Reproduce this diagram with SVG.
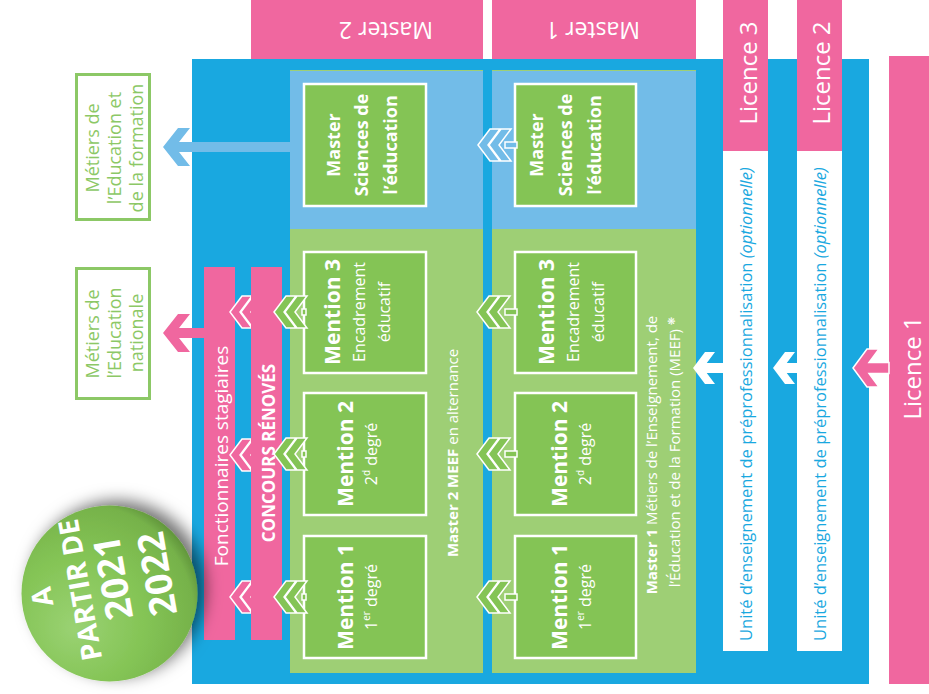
<svg xmlns="http://www.w3.org/2000/svg" width="929" height="694" viewBox="0 0 929 694">
<style>
text{font-family:"Open Sans","Noto Sans","DejaVu Sans",sans-serif;}
.w{fill:#ffffff;}
.b{font-weight:bold;}
.mid{text-anchor:middle;}
.pink{fill:#f0679f;}
.blue{fill:#19a8e0;}
.lblue{fill:#72bce8;}
.gcol{fill:#9ecf75;}
.gbox{fill:#84c455;stroke:#ffffff;stroke-width:2.5;}
.mt{fill:#ffffff;font-size:21px;font-weight:bold;text-anchor:middle;}
.st{fill:#ffffff;font-size:16px;text-anchor:middle;}
.sc{fill:#ffffff;font-size:18px;font-weight:bold;text-anchor:middle;}
.met{fill:#ffffff;stroke:#8cc866;stroke-width:3;}
.mett{fill:#8cc866;font-size:18px;text-anchor:middle;}
.lic{fill:#ffffff;font-size:24px;text-anchor:middle;}
.ue{fill:#19a8e0;font-size:16.5px;}
.chev{stroke:#ffffff;stroke-width:1.5;stroke-linejoin:miter;}
.bt{fill:#ffffff;font-weight:bold;text-anchor:middle;}
</style>
<defs>
<path id="dchev" d="M0,0 L12,-16 L22,-16 L10,0 L22,16 L12,16 Z M11,0 L23,-16 L33,-16 L21,0 L33,16 L23,16 Z"/>
<radialGradient id="badgeGrad" cx="0.35" cy="0.62" r="0.75" fx="0.3" fy="0.7">
<stop offset="0" stop-color="#9ad273"/>
<stop offset="0.5" stop-color="#84c455"/>
<stop offset="0.85" stop-color="#76b24a"/>
<stop offset="1" stop-color="#4f7d2f"/>
</radialGradient>
<filter id="shadow" x="-40%" y="-40%" width="180%" height="180%">
<feDropShadow dx="8" dy="-5" stdDeviation="8" flood-color="#000000" flood-opacity="0.55"/>
</filter>
</defs>

<g id="background">
<rect class="blue" x="192" y="59" width="677" height="625"/>
</g>

<g id="master2-header">
<rect class="pink" x="251" y="0" width="232" height="59"/>
<text class="w mid" font-size="23" transform="translate(386,22) rotate(180)">Master 2</text>
</g>
<g id="master1-header">
<rect class="pink" x="492" y="0" width="204" height="59"/>
<text class="w mid" font-size="23" transform="translate(593,22) rotate(180)">Master 1</text>
</g>

<g id="licence3">
<rect class="pink" x="723" y="0" width="45" height="151"/>
<rect fill="#ffffff" x="723" y="151" width="45" height="500"/>
<text class="lic" transform="translate(757,73) rotate(-90)">Licence 3</text>
<text class="ue" transform="translate(752,641) rotate(-90)">Unité d’enseignement de préprofessionnalisation <tspan font-style="italic">(optionnelle)</tspan></text>
</g>
<g id="licence2">
<rect class="pink" x="797" y="0" width="45" height="151"/>
<rect fill="#ffffff" x="797" y="151" width="45" height="500"/>
<text class="lic" transform="translate(830,73) rotate(-90)">Licence 2</text>
<text class="ue" transform="translate(826,641) rotate(-90)">Unité d’enseignement de préprofessionnalisation <tspan font-style="italic">(optionnelle)</tspan></text>
</g>
<g id="licence1">
<rect class="pink" x="889" y="56" width="40" height="628"/>
<text class="lic" transform="translate(921,368) rotate(-90)">Licence 1</text>
</g>

<g id="master2-column">
<rect class="lblue" x="290" y="70" width="193" height="159"/>
<line x1="290" y1="70.5" x2="483" y2="70.5" stroke="#9ecf75" stroke-width="1"/>
<rect class="gcol" x="290" y="229" width="193" height="444"/>
<text fill="#ffffff" font-size="15" class="mid" transform="translate(458,453) rotate(-90)"><tspan font-weight="bold">Master 2 MEEF</tspan> en alternance</text>
</g>
<g id="master1-column">
<rect class="lblue" x="492" y="70" width="204" height="159"/>
<line x1="492" y1="70.5" x2="696" y2="70.5" stroke="#9ecf75" stroke-width="1"/>
<rect class="gcol" x="492" y="229" width="204" height="444"/>
<text fill="#ffffff" font-size="15" class="mid" transform="translate(657,455) rotate(-90)"><tspan font-weight="bold">Master 1</tspan> Métiers de l’Enseignement, de</text>
<text fill="#ffffff" font-size="15" class="mid" transform="translate(680,452) rotate(-90)">l’Éducation et de la Formation (MEEF) <tspan font-size="10" baseline-shift="super" font-family="DejaVu Sans">❋</tspan></text>
</g>

<g id="m2-sciences">
<rect class="gbox" x="304" y="84" width="122" height="122"/>
<text class="sc" transform="translate(340,145) rotate(-90)">Master</text>
<text class="sc" transform="translate(368,145) rotate(-90)">Sciences de</text>
<text class="sc" transform="translate(397,145) rotate(-90)">l’éducation</text>
</g>
<g id="m1-sciences">
<rect class="gbox" x="515" y="84" width="121" height="122"/>
<text class="sc" transform="translate(543,145) rotate(-90)">Master</text>
<text class="sc" transform="translate(572,145) rotate(-90)">Sciences de</text>
<text class="sc" transform="translate(601,145) rotate(-90)">l’éducation</text>
</g>

<g id="m2-mention3">
<rect class="gbox" x="304" y="252" width="122" height="121"/>
<text class="mt" transform="translate(340,312) rotate(-90)">Mention 3</text>
<text class="st" transform="translate(365,312) rotate(-90)">Encadrement</text>
<text class="st" transform="translate(390,312) rotate(-90)">éducatif</text>
</g>
<g id="m2-mention2">
<rect class="gbox" x="304" y="393" width="122" height="122"/>
<text class="mt" transform="translate(353,454) rotate(-90)">Mention 2</text>
<text class="st" transform="translate(377,454) rotate(-90)">2<tspan font-size="10" baseline-shift="super">d</tspan> degré</text>
</g>
<g id="m2-mention1">
<rect class="gbox" x="304" y="536" width="122" height="122"/>
<text class="mt" transform="translate(353,597) rotate(-90)">Mention 1</text>
<text class="st" transform="translate(377,597) rotate(-90)">1<tspan font-size="10" baseline-shift="super">er</tspan> degré</text>
</g>
<g id="m1-mention3">
<rect class="gbox" x="515" y="252" width="121" height="121"/>
<text class="mt" transform="translate(554,312) rotate(-90)">Mention 3</text>
<text class="st" transform="translate(579,312) rotate(-90)">Encadrement</text>
<text class="st" transform="translate(604,312) rotate(-90)">éducatif</text>
</g>
<g id="m1-mention2">
<rect class="gbox" x="515" y="393" width="121" height="122"/>
<text class="mt" transform="translate(567,454) rotate(-90)">Mention 2</text>
<text class="st" transform="translate(591,454) rotate(-90)">2<tspan font-size="10" baseline-shift="super">d</tspan> degré</text>
</g>
<g id="m1-mention1">
<rect class="gbox" x="515" y="536" width="121" height="122"/>
<text class="mt" transform="translate(567,597) rotate(-90)">Mention 1</text>
<text class="st" transform="translate(591,597) rotate(-90)">1<tspan font-size="10" baseline-shift="super">er</tspan> degré</text>
</g>

<g id="fonctionnaires">
<rect class="pink" x="204" y="267" width="31" height="373"/>
<text class="w mid" font-size="19" transform="translate(228,456) rotate(-90)">Fonctionnaires stagiaires</text>
</g>

<g id="connectors">
<g class="chev" fill="#f0679f">
<use href="#dchev" x="230" y="312"/>
<use href="#dchev" x="230" y="455"/>
<use href="#dchev" x="230" y="597"/>
</g>
</g>

<g id="concours">
<rect class="pink" x="251" y="267" width="31" height="373"/>
<text class="bt" font-size="17" transform="translate(275,453) rotate(-90)">CONCOURS RÉNOVÉS</text>
</g>

<g id="connectors-2">
<g class="chev" fill="#84c455">
<rect x="302" y="309" width="4" height="6"/>
<rect x="302" y="451" width="4" height="6"/>
<rect x="302" y="594" width="4" height="6"/>
<use href="#dchev" x="274" y="312"/>
<use href="#dchev" x="274" y="454"/>
<use href="#dchev" x="274" y="597"/>
<rect x="505" y="309" width="12" height="6"/>
<rect x="505" y="451" width="12" height="6"/>
<rect x="505" y="594" width="12" height="6"/>
<use href="#dchev" x="477" y="312"/>
<use href="#dchev" x="477" y="454"/>
<use href="#dchev" x="477" y="597"/>
</g>
<g class="chev" fill="#72bce8">
<rect x="505" y="142" width="12" height="6"/>
<use href="#dchev" x="478" y="145"/>
</g>
<polygon fill="#72bce8" points="163,147 178,128 190,128 179,142 290,142 290,152 179,152 190,166 178,166"/>
<polygon fill="#f0679f" points="163,333 178,314 190,314 179,328 205,328 205,338 179,338 190,352 178,352"/>
<polygon fill="#ffffff" points="693,368 705,352 715,352 706.75,363 723,363 723,373 706.75,373 715,384 705,384"/>
<polygon fill="#ffffff" points="773,368 785,352 795,352 786.75,363 797,363 797,373 786.75,373 795,384 785,384"/>
<polygon fill="#f0679f" stroke="#ffffff" stroke-width="1.5" points="853,368 867,349 879,349 869,362.5 889,362.5 889,373.5 869,373.5 879,387 867,387"/>
</g>

<g id="metiers-formation">
<rect class="met" x="76.5" y="74.5" width="73" height="145"/>
<text class="mett" transform="translate(99,148) rotate(-90)">Métiers de</text>
<text class="mett" transform="translate(121,148) rotate(-90)">l’Education et</text>
<text class="mett" transform="translate(143,148) rotate(-90)">de la formation</text>
</g>
<g id="metiers-nationale">
<rect class="met" x="76.5" y="268.5" width="73" height="130"/>
<text class="mett" transform="translate(99,334) rotate(-90)">Métiers de</text>
<text class="mett" transform="translate(121,333) rotate(-90)">l’Education</text>
<text class="mett" transform="translate(143,333) rotate(-90)">nationale</text>
</g>

<g id="badge">
<circle cx="109.5" cy="593.5" r="88" fill="url(#badgeGrad)" filter="url(#shadow)"/>
<text class="bt" font-size="28" transform="translate(42,597) rotate(-100)" y="10">A</text>
<text class="bt" font-size="28" transform="translate(80,590) rotate(-100)" y="10">PARTIR DE</text>
<text class="bt" font-size="37" transform="translate(113,578) rotate(-100)" y="13">2021</text>
<text class="bt" font-size="37" transform="translate(157,574) rotate(-100)" y="13">2022</text>
</g>
</svg>
